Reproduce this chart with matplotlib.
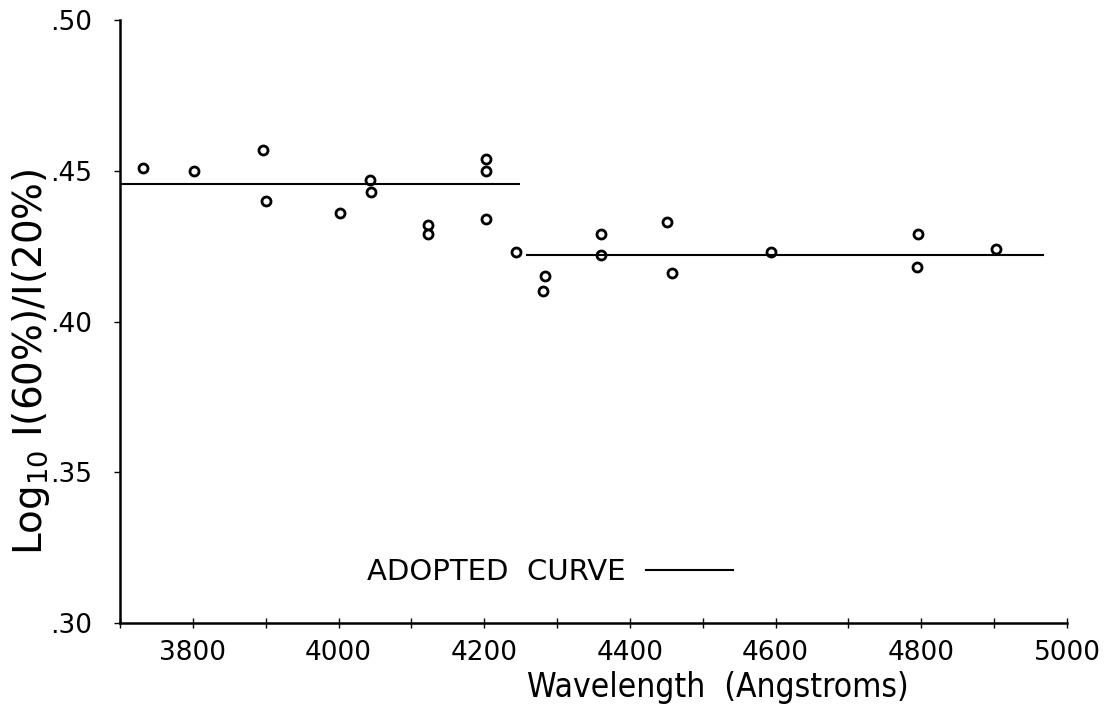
import matplotlib
matplotlib.use("Agg")
import matplotlib.pyplot as plt
from matplotlib.ticker import FuncFormatter, MultipleLocator

wavelength = [3731, 3801, 3896, 3901, 4002, 4043, 4044, 4123, 4123, 4203, 4202, 4203,
              4243, 4283, 4281, 4360, 4360, 4451, 4458, 4593, 4796, 4794, 4903]
log_ratio = [0.451, 0.450, 0.457, 0.440, 0.436, 0.447, 0.443, 0.432, 0.429, 0.454, 0.450, 0.434,
             0.423, 0.415, 0.410, 0.429, 0.422, 0.433, 0.416, 0.423, 0.429, 0.418, 0.424]

# adopted curve is two flat pieces
blue_x = [3700, 4248]
blue_y = [0.4455, 0.4455]
red_x = [4259, 4967]
red_y = [0.4222, 0.4222]

x_ticks = [3800, 4000, 4200, 4400, 4600, 4800, 5000]
y_ticks = [0.30, 0.35, 0.40, 0.45, 0.50]

plt.rcParams["font.family"] = ["DejaVu Sans"]

W, H = 1104, 721
fig = plt.figure(figsize=(W / 100, H / 100), dpi=100)
ax = fig.add_axes([120 / W, 1 - 623 / H, (1067 - 120) / W, (623 - 20) / H])

ax.plot(wavelength, log_ratio, linestyle="none", marker="o", markersize=6.5,
        markerfacecolor="white", markeredgecolor="black", markeredgewidth=2)
ax.plot(blue_x, blue_y, color="black", linewidth=1.5, label="ADOPTED  CURVE")
ax.plot(red_x, red_y, color="black", linewidth=1.5)

ax.set_xlim(3700, 5000)
ax.set_ylim(0.30, 0.50)
ax.set_xticks(x_ticks)
ax.xaxis.set_minor_locator(MultipleLocator(100))
ax.set_yticks(y_ticks)
# old style labels: .45 instead of 0.45
ax.yaxis.set_major_formatter(FuncFormatter(lambda v, loc: "{:.2f}".format(v)[1:]))

for side in ("top", "right"):
    ax.spines[side].set_visible(False)
for side in ("left", "bottom"):
    ax.spines[side].set_linewidth(1.8)

ax.tick_params(axis="x", which="both", direction="inout", length=7, width=1, labelsize=19, pad=9)
ax.tick_params(axis="y", direction="out", length=4, width=1, labelsize=19, pad=16)

fig.text(718 / W, 1 - 688 / H, "Wavelength  (Angstroms)", fontsize=24, stretch="condensed",
         ha="center", va="center")
fig.text(31 / W, 1 - 362 / H, r"Log$_{10}$ I(60%)/I(20%)", fontsize=28,
         rotation=90, ha="center", va="center")

leg = ax.legend(loc="center", bbox_to_anchor=(550 / W, 1 - 572 / H), bbox_transform=fig.transFigure,
                frameon=False, markerfirst=False, handlelength=3.0, handletextpad=0.7, fontsize=21)

fig.savefig("out.png", dpi=100)
plt.close(fig)
